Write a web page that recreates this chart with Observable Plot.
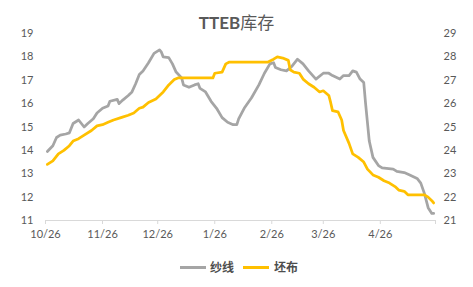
<!DOCTYPE html>
<html>
<head>
<meta charset="utf-8">
<script src="https://cdn.jsdelivr.net/npm/d3@7"></script>
<script src="https://cdn.jsdelivr.net/npm/@observablehq/plot@0.6"></script>
<style>
  html, body { margin: 0; padding: 0; background: #ffffff; }
  #wrap { position: relative; width: 473px; height: 287px; overflow: hidden; font-family: Lato, "Noto Sans CJK SC", sans-serif; color: #595959; }
  #title { position: absolute; left: 0; width: 473px; top: 12px; text-align: center; font-size: 17px; line-height: 22px; color: #595959; }
  #title b { font-weight: 700; }
  #chart { position: absolute; left: 0; top: 0; }
  .leg { position: absolute; top: 259px; font-size: 12px; line-height: 16px; font-weight: 700; font-family: "Noto Sans CJK SC", sans-serif; color: #4d4d4d; }
  .sw { position: absolute; height: 3px; top: 266px; }
</style>
</head>
<body>
<div id="wrap">
  <div id="chart"></div>
  <div id="title"><b>TTEB</b>库存</div>
  <div class="sw" style="left:180px;width:26px;background:#a5a5a5"></div>
  <div class="leg" style="left:210px">纱线</div>
  <div class="sw" style="left:243px;width:26px;background:#ffc000"></div>
  <div class="leg" style="left:274px">坯布</div>
</div>
<script>
const seriesNames = ["纱线", "坯布"];
const leftTicks = [11, 12, 13, 14, 15, 16, 17, 18, 19];
const rightTicks = [21, 22, 23, 24, 25, 26, 27, 28, 29];
const xTickDates = ["2020-10-26","2020-11-26","2020-12-26","2021-01-26","2021-02-26","2021-03-26","2021-04-26","2021-05-26"];
const xTickLabels = ["10/26","11/26","12/26","1/26","2/26","3/26","4/26",""];
const xDomain = ["2020-10-26", "2021-05-26"];

// 纱线 (left axis)
const yarnDates = ["2020-10-27","2020-10-30","2020-11-01","2020-11-03","2020-11-06","2020-11-08","2020-11-10","2020-11-13","2020-11-16","2020-11-18","2020-11-21","2020-11-23","2020-11-26","2020-11-29","2020-11-30","2020-12-04","2020-12-05","2020-12-07","2020-12-10","2020-12-12","2020-12-14","2020-12-16","2020-12-18","2020-12-21","2020-12-24","2020-12-27","2020-12-28","2020-12-29","2021-01-01","2021-01-03","2021-01-05","2021-01-08","2021-01-09","2021-01-12","2021-01-15","2021-01-17","2021-01-18","2021-01-21","2021-01-24","2021-01-27","2021-01-30","2021-02-02","2021-02-05","2021-02-07","2021-02-08","2021-02-11","2021-02-15","2021-02-19","2021-02-22","2021-02-25","2021-02-27","2021-02-28","2021-03-03","2021-03-06","2021-03-09","2021-03-12","2021-03-15","2021-03-18","2021-03-22","2021-03-26","2021-03-29","2021-03-31","2021-04-04","2021-04-06","2021-04-09","2021-04-11","2021-04-13","2021-04-15","2021-04-17","2021-04-18","2021-04-19","2021-04-20","2021-04-22","2021-04-25","2021-04-27","2021-05-03","2021-05-05","2021-05-09","2021-05-12","2021-05-16","2021-05-18","2021-05-20","2021-05-22","2021-05-24","2021-05-25"];
const yarnValues = [13.95,14.2,14.55,14.65,14.7,14.75,15.15,15.3,15.0,15.15,15.35,15.6,15.8,15.9,16.1,16.18,16.0,16.15,16.35,16.5,16.85,17.25,17.4,17.75,18.15,18.3,18.2,18.0,17.97,17.7,17.35,17.1,16.8,16.7,16.8,16.85,16.65,16.5,16.1,15.8,15.4,15.2,15.1,15.1,15.35,15.8,16.25,16.8,17.3,17.7,17.75,17.55,17.45,17.4,17.6,17.9,17.7,17.4,17.05,17.3,17.3,17.2,17.05,17.2,17.2,17.4,17.35,17.05,16.9,16.0,15.2,14.4,13.7,13.35,13.25,13.2,13.1,13.05,12.95,12.8,12.6,12.15,11.55,11.3,11.3];

// 坯布 (right axis)
const fabricDates = ["2020-10-27","2020-10-30","2020-11-02","2020-11-05","2020-11-08","2020-11-10","2020-11-13","2020-11-16","2020-11-20","2020-11-23","2020-11-26","2020-11-29","2020-12-02","2020-12-06","2020-12-10","2020-12-13","2020-12-16","2020-12-18","2020-12-21","2020-12-25","2020-12-29","2021-01-01","2021-01-04","2021-01-06","2021-01-25","2021-01-26","2021-01-30","2021-02-01","2021-02-03","2021-02-24","2021-02-27","2021-03-01","2021-03-04","2021-03-07","2021-03-08","2021-03-10","2021-03-13","2021-03-15","2021-03-18","2021-03-21","2021-03-24","2021-03-26","2021-03-29","2021-03-30","2021-03-31","2021-04-03","2021-04-05","2021-04-06","2021-04-09","2021-04-11","2021-04-14","2021-04-17","2021-04-19","2021-04-22","2021-04-25","2021-04-28","2021-05-01","2021-05-04","2021-05-06","2021-05-09","2021-05-11","2021-05-20","2021-05-22","2021-05-24","2021-05-25"];
const fabricValues = [23.4,23.55,23.85,24.0,24.2,24.4,24.5,24.65,24.85,25.05,25.1,25.2,25.3,25.4,25.5,25.6,25.8,25.85,26.05,26.2,26.5,26.8,27.03,27.1,27.1,27.3,27.35,27.7,27.78,27.78,27.9,28.0,27.95,27.85,27.45,27.35,27.3,27.05,26.85,26.7,26.5,26.55,26.35,26.05,25.7,25.65,25.3,24.85,24.3,23.85,23.7,23.5,23.2,22.95,22.85,22.7,22.6,22.45,22.3,22.25,22.1,22.1,22.0,21.85,21.75];

const colors = ["#a5a5a5", "#ffc000"];

const rightOffset = rightTicks[0] - leftTicks[0];
const yarn = yarnDates.map((d, i) => ({date: new Date(d), v: yarnValues[i]}));
const fabric = fabricDates.map((d, i) => ({date: new Date(d), v: fabricValues[i] - rightOffset}));
const tickDates = xTickDates.map(d => new Date(d));
const labelMap = new Map(tickDates.map((d, i) => [+d, xTickLabels[i]]));

const chart = Plot.plot({
  width: 473,
  height: 250,
  marginLeft: 45,
  marginRight: 38,
  marginTop: 33,
  marginBottom: 30,
  style: {fontFamily: "Lato, 'Noto Sans CJK SC', sans-serif", fontSize: "11px", color: "#595959", background: "transparent", overflow: "visible"},
  x: {type: "utc", domain: xDomain.map(d => new Date(d))},
  y: {domain: [leftTicks[0], leftTicks[leftTicks.length - 1]]},
  marks: [
    Plot.ruleY([leftTicks[0]], {stroke: "#d9d9d9", strokeWidth: 1}),
    Plot.axisX({ticks: tickDates, tickSize: 4, tickFormat: () => "", stroke: "#d9d9d9", label: null}),
    Plot.axisX({ticks: tickDates, tickSize: 0, tickPadding: 10, tickFormat: d => labelMap.get(+d) ?? "", label: null}),
    Plot.axisY({ticks: leftTicks, tickSize: 0, tickPadding: 12, label: null}),
    Plot.axisY({anchor: "right", ticks: leftTicks, tickSize: 0, tickPadding: 8, tickFormat: d => String(rightTicks[leftTicks.indexOf(d)]), label: null}),
    Plot.line(yarn, {x: "date", y: "v", stroke: colors[0], strokeWidth: 2.75, strokeLinejoin: "round"}),
    Plot.line(fabric, {x: "date", y: "v", stroke: colors[1], strokeWidth: 2.75, strokeLinejoin: "round"})
  ]
});
document.getElementById("chart").appendChild(chart);
</script>
</body>
</html>
